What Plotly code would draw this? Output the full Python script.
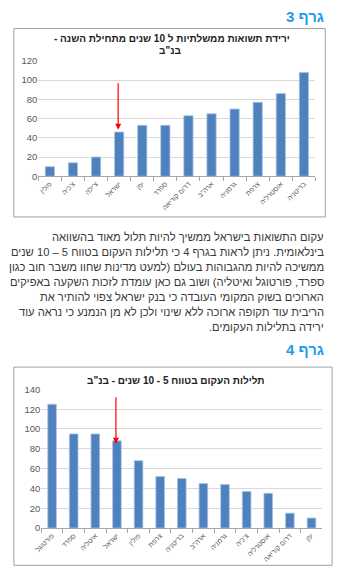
import plotly.graph_objects as go

W, H = 337, 586

# ---------- data ----------
cat3 = ["פולין", "צ'כיה", "צ'ילה", "ישראל", "יפן", "ספרד", "דרום קוריאה",
        'ארה"ב', "גרמניה", "צרפת", "אוסטרליה", "בריטניה"]
val3 = [10, 14, 20, 46, 53, 53, 63, 65, 70, 77, 86, 108]

cat4 = ["פורטוגל", "ספרד", "איטליה", "ישראל", "פולין", "צרפת", "בריטניה",
        'ארה"ב', "גרמניה", "צ'כיה", "אוסטרליה", "דרום קוריאה", "יפן"]
val4 = [125, 95, 95, 88, 68, 52, 50, 45, 44, 37, 35, 15, 10]

ticks3 = [0, 20, 40, 60, 80, 100, 120]
ticks4 = [0, 20, 40, 60, 80, 100, 120, 140]

title3 = ["ירידת תשואות ממשלתיות ל 10 שנים מתחילת השנה -", 'בנ"ב']
title4 = 'תלילות העקום בטווח 5 - 10 שנים - בנ"ב'
header3 = "גרף 3"
header4 = "גרף 4"
paragraph = [
    "עקום התשואות בישראל ממשיך להיות תלול מאוד בהשוואה",
    "בינלאומית. ניתן לראות בגרף 4 כי תלילות העקום בטווח 5 – 10 שנים",
    "ממשיכה להיות מהגבוהות בעולם (למעט מדינות שחוו משבר חוב כגון",
    "ספרד, פורטוגל ואיטליה) ושוב גם כאן עומדת לזכות השקעה באפיקים",
    "הארוכים בשוק המקומי העובדה כי בנק ישראל צפוי להותיר את",
    "הריבית עוד תקופה ארוכה ללא שינוי ולכן לא מן הנמנע כי נראה עוד",
    "ירידה בתלילות העקומים.",
]
highlight = "ישראל"


def rtl(s):
    return "\u202b" + s + "\u202c"


def px(x):
    return x / W


def py(y):
    return 1 - y / H


FONT = "Arial, Liberation Sans, DejaVu Sans, sans-serif"
BAR = "#4F81BD"
GRID = "#D9D9D9"
AXC = "#595959"

fig = go.Figure()
fig.add_trace(go.Bar(x=cat3, y=val3, xaxis="x", yaxis="y",
                     marker=dict(color=BAR, line=dict(color="#A9C4EB", width=0.8)),
                     hoverinfo="x+y"))
fig.add_trace(go.Bar(x=cat4, y=val4, xaxis="x2", yaxis="y2",
                     marker=dict(color=BAR, line=dict(color="#A9C4EB", width=0.8)),
                     hoverinfo="x+y"))

xcommon = dict(type="category", showgrid=False, showline=True, linecolor="#A6A6A6",
               linewidth=1, ticks="outside", tickson="boundaries", ticklen=4,
               tickcolor="#A6A6A6", tickangle=-45,
               tickfont=dict(family=FONT, size=7, color=AXC), fixedrange=True)
ycommon = dict(showgrid=True, gridcolor=GRID, gridwidth=1, zeroline=False,
               showline=False, ticks="", tickfont=dict(family=FONT, size=9.5, color=AXC),
               fixedrange=True)

fig.update_layout(
    width=W, height=H, margin=dict(l=0, r=0, t=0, b=0),
    paper_bgcolor="white", plot_bgcolor="white", showlegend=False,
    bargap=0.6,
    xaxis=dict(domain=[px(32), px(315)], anchor="y", **xcommon),
    yaxis=dict(domain=[py(173.5), py(56)], anchor="x", range=[0, 120],
               tickvals=ticks3, **ycommon),
    xaxis2=dict(domain=[px(35), px(322)], anchor="y2", **xcommon),
    yaxis2=dict(domain=[py(532), py(390.7)], anchor="x2", range=[0, 140],
                tickvals=ticks4, **ycommon),
)

shapes = []
for (x0, y0, x1, y1) in [(7, 23, 325, 215), (7, 368, 332, 570)]:
    shapes.append(dict(type="rect", xref="paper", yref="paper",
                       x0=px(x0), x1=px(x1), y0=py(y1), y1=py(y0),
                       line=dict(color="#A0A0A0", width=1), fillcolor="rgba(0,0,0,0)"))
fig.update_layout(shapes=shapes)

ann = []
# headers
for txt, y in [(header3, 11), (header4, 350)]:
    ann.append(dict(text="<b>" + rtl(txt) + "</b>", xref="paper", yref="paper",
                    x=px(326), y=py(y), xanchor="right", yanchor="middle",
                    showarrow=False, font=dict(family=FONT, size=15, color="#1E9BF0")))
# chart titles
ann.append(dict(text="<b>" + rtl(title3[0]) + "</b>", xref="paper", yref="paper",
                x=px(168), y=py(33), xanchor="center", yanchor="middle",
                showarrow=False, font=dict(family=FONT, size=10, color="#222")))
ann.append(dict(text="<b>" + rtl(title3[1]) + "</b>", xref="paper", yref="paper",
                x=px(166), y=py(45.5), xanchor="center", yanchor="middle",
                showarrow=False, font=dict(family=FONT, size=10, color="#222")))
ann.append(dict(text="<b>" + rtl(title4) + "</b>", xref="paper", yref="paper",
                x=px(172), y=py(381.5), xanchor="center", yanchor="middle",
                showarrow=False, font=dict(family=FONT, size=10, color="#222")))
# paragraph
for i, line in enumerate(paragraph):
    ann.append(dict(text=rtl(line), xref="paper", yref="paper",
                    x=px(326), y=py(235 + i * 15.4), xanchor="right", yanchor="middle",
                    showarrow=False, font=dict(family=FONT, size=11.2, color="#3A3A3A")))
# red arrows pointing at Israel
i3 = cat3.index(highlight)
ann.append(dict(x=cat3[i3], y=val3[i3] + 2.5, xref="x", yref="y", ax=0, ay=-48,
                showarrow=True, arrowhead=2, arrowsize=1, arrowwidth=1.2,
                arrowcolor="#FF0000", text="", xshift=-1, standoff=0))
i4 = cat4.index(highlight)
ann.append(dict(x=cat4[i4], y=val4[i4] - 3, xref="x2", yref="y2", ax=0, ay=-48,
                showarrow=True, arrowhead=2, arrowsize=1, arrowwidth=1.2,
                arrowcolor="#FF0000", text="", xshift=-1, standoff=0))
fig.update_layout(annotations=ann)

fig.write_html("out.html")
